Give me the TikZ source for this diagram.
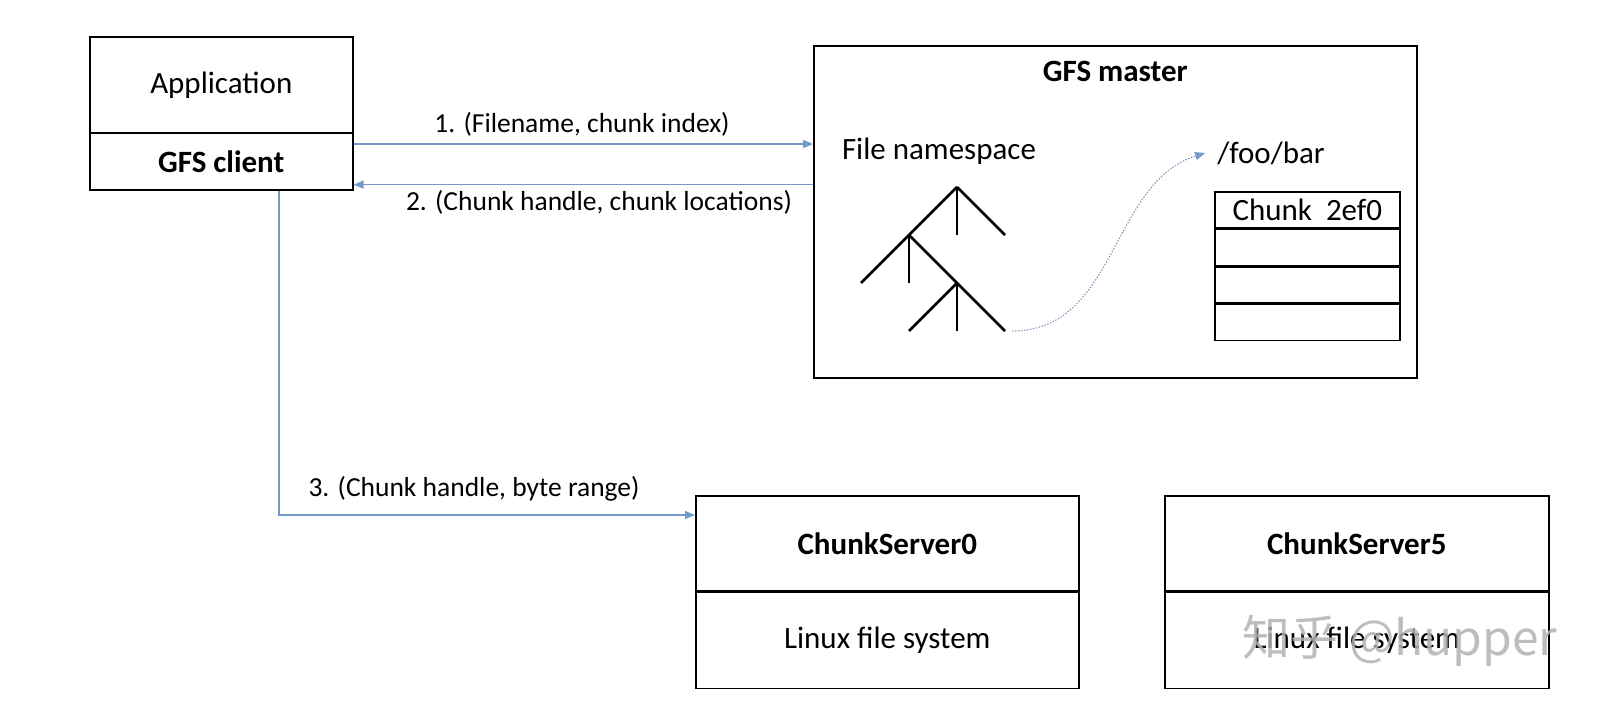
\documentclass[tikz,border=0pt]{standalone}
\usepackage{fontspec}
\setmainfont{Carlito}
\newfontfamily\cjkfont{Noto Sans CJK SC}
\usetikzlibrary{arrows.meta,calc}
\definecolor{flowblue}{RGB}{118,152,200}
\definecolor{dotblue}{RGB}{120,145,185}
\begin{document}
\begin{tikzpicture}[x=1pt,y=-1pt,
  box/.style={draw=black, line width=1.6pt, inner sep=0pt, anchor=north west},
  txt/.style={font=\fontsize{31}{37}\selectfont, inner sep=0pt},
  txtb/.style={font=\fontsize{31}{37}\selectfont\bfseries, inner sep=0pt},
  lbl/.style={font=\fontsize{27.5}{33}\selectfont, inner sep=0pt},
  flow/.style={draw=flowblue, line width=1.3pt, -{Triangle[length=10pt,width=8pt]}},
  branch/.style={draw=black, line width=2.6pt},
  dotcurve/.style={draw=dotblue, line width=1pt, dash pattern=on 1.5pt off 1.5pt, -{Triangle[length=10pt,width=8pt,color=flowblue]}}
]
\useasboundingbox (0,0) rectangle (1600,715);
\fill[white] (0,0) rectangle (1600,715);

% client
\node[box, minimum width=263pt, minimum height=96pt] (app) at (89,36) {};
\node[txt] (apptxt) at (app.center) {Application};
\node[box, minimum width=263pt, minimum height=57pt] (gfsclient) at (89,132) {};
\node[txtb] (clienttxt) at (gfsclient.center) {GFS client};

% master
\node[box, minimum width=603pt, minimum height=332pt] (master) at (813,45) {};
\node[txtb] (mastertxt) at ([yshift=-26pt]master.north) {GFS master};
\node[txt] (fns) at (939,151) {File namespace};
\node[txt] (foobar) at (1271,153) {/foo/bar};

% tree
\coordinate (A) at (957,187);
\coordinate (B) at ($(A)+(-48,48)$);
\draw[branch] (A) -- ++(48,48);
\draw[branch] (A) -- ++(0,48);
\draw[branch] (A) -- ++(-96,96);
\draw[branch] (B) -- ++(0,48);
\draw[branch] (B) -- ++(48,48) coordinate (C) -- ++(48,48) coordinate (treeend);
\draw[branch] (C) -- ++(-48,48);
\draw[branch] (C) -- ++(0,48);

% chunk table
\node[box, minimum width=185pt, minimum height=36pt] (r0) at (1214,191) {};
\node[txt] (r0txt) at (r0.center) {Chunk\ \ 2ef0};
\node[box, minimum width=185pt, minimum height=36pt] (r1) at (r0.south west) {};
\node[box, minimum width=185pt, minimum height=36pt] (r2) at (r1.south west) {};
\node[box, minimum width=185pt, minimum height=36pt] (r3) at (r2.south west) {};

% dotted curve
\coordinate (cstart) at ([xshift=7pt]treeend);
\draw[dotcurve] (cstart) .. controls +(105,0) and +(-95,30) .. ([xshift=-12pt]foobar.west);

% chunkservers
\node[box, minimum width=383pt, minimum height=95pt] (cs0a) at (695,495) {};
\node[txtb] (cs0t) at (cs0a.center) {ChunkServer0};
\node[box, minimum width=383pt, minimum height=96pt] (cs0b) at (cs0a.south west) {};
\node[txt] (cs0l) at (cs0b.center) {Linux file system};

\node[box, minimum width=384pt, minimum height=95pt] (cs5a) at (1164,495) {};
\node[txtb] (cs5t) at (cs5a.center) {ChunkServer5};
\node[box, minimum width=384pt, minimum height=96pt] (cs5b) at (cs5a.south west) {};
\node[txt] (cs5l) at (cs5b.center) {Linux file system};
\node[font=\fontsize{48}{56}\selectfont, text=gray!60, opacity=0.85, inner sep=0pt] (wm) at (1400,641) {\cjkfont 知乎 @hupper};

% arrows
\coordinate (a1s) at ([yshift=-12pt]gfsclient.north east);
\draw[flow] (a1s) -- (a1s -| master.west);
\node[lbl] (l1) at (582,124) {1. (Filename, chunk index)};
\coordinate (a2s) at ([yshift=6pt]gfsclient.south east);
\draw[flow] (a2s -| master.west) -- (a2s);
\node[lbl] (l2) at (599,202) {2. (Chunk handle, chunk locations)};
\coordinate (a3s) at ([xshift=190pt]gfsclient.south west);
\coordinate (a3e) at ([yshift=-20pt]cs0a.north west);
\draw[flow] (a3s) |- (a3e);
\node[lbl] (l3) at (474,489) {3. (Chunk handle, byte range)};
\end{tikzpicture}
\end{document}
